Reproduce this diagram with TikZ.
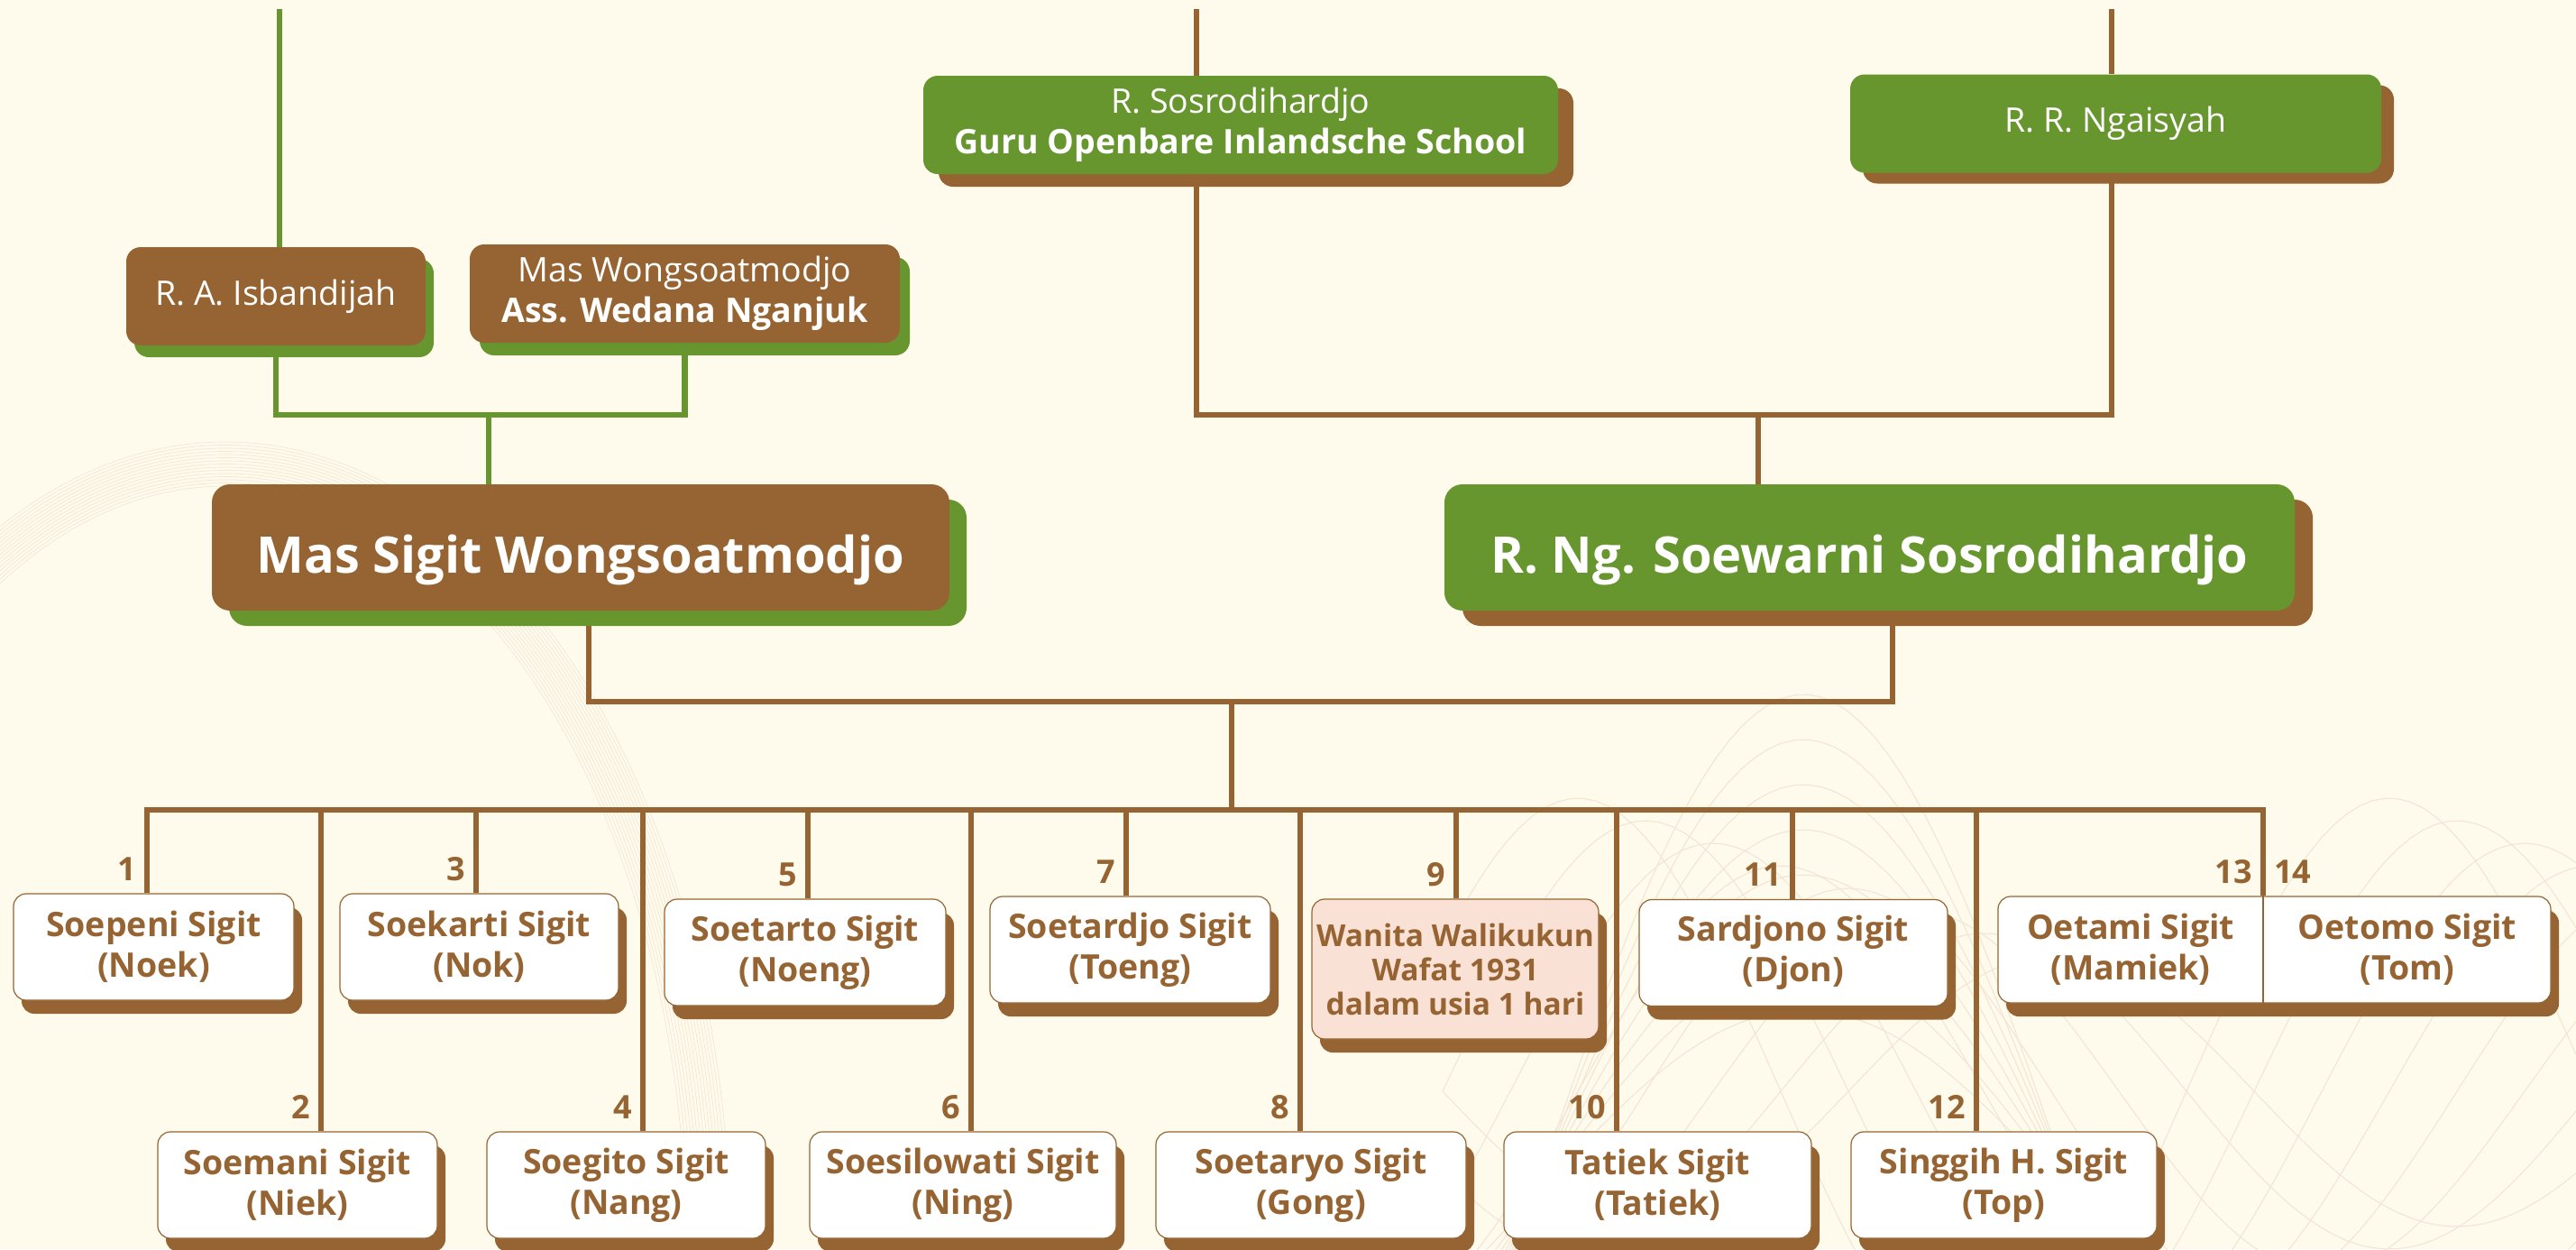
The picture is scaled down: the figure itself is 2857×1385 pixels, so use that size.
\documentclass[tikz,border=0pt]{standalone}
\usepackage{fontspec}
\setmainfont{Open Sans}
\usetikzlibrary{shadows,calc}
\definecolor{brn}{RGB}{150,100,50}
\definecolor{grn}{RGB}{103,150,47}
\definecolor{cream}{RGB}{255,251,236}
\definecolor{pink}{RGB}{250,225,214}
\definecolor{swirl}{RGB}{243,230,215}
\pgfdeclarelayer{deco}
\pgfdeclarelayer{links}
\pgfsetlayers{deco,links,main}

\begin{document}
\begin{tikzpicture}[x=1pt,y=-1pt,
  glink/.style={grn,line width=6.5pt},
  blink/.style={brn,line width=6pt},
  gshadow/.style 2 args={drop shadow={shadow xshift=#1,shadow yshift=#2,opacity=1,fill=grn}},
  bshadow/.style 2 args={drop shadow={shadow xshift=#1,shadow yshift=#2,opacity=1,fill=brn}},
  person/.style={rounded corners=16pt,text=white,align=center,inner sep=0pt,
    minimum height=109pt,font=\fontsize{37.5}{45}\selectfont},
  big/.style={minimum height=140pt,rounded corners=20pt,text height=56pt,text depth=0pt,
    font=\bfseries\fontsize{56}{60}\selectfont},
  child/.style={draw=brn,line width=1.2pt,fill=white,rounded corners=14pt,text=brn,align=center,
    inner sep=0pt,minimum height=118pt,font=\bfseries\fontsize{37.5}{45}\selectfont,
    bshadow={9pt}{-15pt}},
  twin/.style={text=brn,align=center,inner sep=0pt,font=\bfseries\fontsize{37.5}{45}\selectfont},
  num/.style={text=brn,inner sep=0pt,font=\bfseries\fontsize{36}{40}\selectfont}]

  \useasboundingbox (0,0) rectangle (2857,1385);

  \begin{pgfonlayer}{deco}
    \fill[cream] (0,0) rectangle (2857,1385);
    \begin{scope}
      \clip (0,0) rectangle (2857,1385);
      \foreach \k in {0,...,14}
        \draw[swirl,line width=0.7pt] (250+560-3.5*\k,1385)
          arc[start angle=0,end angle=-180,x radius=560-3.5*\k,y radius=895-3.5*\k];
      \foreach \k in {0,...,7}
        \draw[swirl,line width=1.2pt] plot[domain=1550:2857,samples=90]
          (\x,{1330-(560-50*\k)*cos((\x-2000)*0.3)});
      \foreach \k in {0,...,7}
        \draw[swirl,line width=1.2pt] plot[domain=1600:2857,samples=90]
          (\x,{1210+(150+25*\k)*sin((\x-1600)*0.4+30*\k)});
    \end{scope}
  \end{pgfonlayer}

  \node[person,fill=brn,gshadow={9pt}{-13pt},minimum width=332pt] (pIsb) at (306,328.5) {R. A. Isbandijah};
  \node[person,fill=brn,gshadow={11pt}{-14pt},minimum width=477pt] (pWong) at (759.5,325.5)
    {Mas Wongsoatmodjo\\\textbf{Ass. Wedana Nganjuk}};
  \node[person,fill=grn,bshadow={17pt}{-14pt},minimum width=704pt] (pSos) at (1376,138.5)
    {R. Sosrodihardjo\\\textbf{Guru Openbare Inlandsche School}};
  \node[person,fill=grn,bshadow={14pt}{-12pt},minimum width=589pt] (pNga) at (2346.5,137) {R. R. Ngaisyah};
  \node[person,big,fill=brn,gshadow={19pt}{-17pt},minimum width=818pt] (pSigit) at (644,607) {Mas Sigit Wongsoatmodjo};
  \node[person,big,fill=grn,bshadow={20pt}{-17pt},minimum width=943pt] (pSoew) at (2073.5,607) {R. Ng. Soewarni Sosrodihardjo};

  \foreach \n/\x/\y/\w/\txt in {
      1/170.5/1050/311/{Soepeni Sigit\\(Noek)},
      3/531.5/1050/309/{Soekarti Sigit\\(Nok)},
      5/893/1056/312/{Soetarto Sigit\\(Noeng)},
      7/1253.5/1053/311/{Soetardjo Sigit\\(Toeng)},
      11/1989/1056.5/342/{Sardjono Sigit\\(Djon)},
      2/330/1314/310/{Soemani Sigit\\(Niek)},
      4/694.5/1314/309/{Soegito Sigit\\(Nang)},
      6/1068/1314/340/{Soesilowati Sigit\\(Ning)},
      8/1454/1314/344/{Soetaryo Sigit\\(Gong)},
      10/1838.5/1314/341/{Tatiek Sigit\\(Tatiek)},
      12/2222.5/1314/339/{Singgih H. Sigit\\(Top)}}
    \node[child,minimum width=\w pt] (c\n) at (\x,\y) {\txt};
  \node[child,fill=pink,minimum width=318pt,minimum height=155pt,
    font=\bfseries\fontsize{33.5}{38}\selectfont] (c9) at (1614,1074.5)
    {Wanita Walikukun\\Wafat 1931\\dalam usia 1 hari};
  \node[child,minimum width=613pt] (c13) at (2522.5,1053) {};
  \node[twin] (tw13) at (2363,1053) {Oetami Sigit\\(Mamiek)};
  \node[twin] (tw14) at (2670,1053) {Oetomo Sigit\\(Tom)};

  \foreach \n/\x in {1/163,2/356,3/528,4/713,5/896,6/1077,7/1249,8/1442,9/1615,10/1793,11/1988,12/2192,13/2510}
    \coordinate (t\n) at (\x,898);
  \draw[brn,line width=1.2pt] (t13 |- c13.north) -- (t13 |- c13.south);

  \coordinate (topIsb) at (310,10);
  \coordinate (topSos) at (1327,10);
  \coordinate (topNga) at (2342,10);
  \coordinate (jTop) at (542,460);
  \coordinate (jPar) at (1950,460);
  \coordinate (aSig) at (653,778);
  \coordinate (aSoew) at (2099,778);
  \coordinate (jKids) at (1366,778);

  \begin{pgfonlayer}{links}
    \draw[glink] (topIsb) -- (topIsb |- pIsb.north);
    \draw[glink] (pIsb) |- (jTop) -| (pWong);
    \draw[glink] (jTop) -- (jTop |- pSigit.north);
    \draw[blink] (topSos) -- (topSos |- pSos.north);
    \draw[blink] (topNga) -- (topNga |- pNga.north);
    \draw[blink] (topSos |- pSos.south) |- (jPar) -| (topNga |- pNga.south);
    \draw[blink] (jPar) -- (jPar |- pSoew.north);
    \draw[blink] (aSig |- pSigit.south) |- (jKids) -| (aSoew |- pSoew.south);
    \draw[blink] (jKids) -- (jKids |- t1);
    \draw[blink] (t1 |- c1.north) -- (t1) -- (t13) -- (t13 |- c13.north);
    \foreach \n in {2,...,12}
      \draw[blink] (t\n) -- (t\n |- c\n.north);
  \end{pgfonlayer}

  \foreach \n in {1,...,13}
    \node[num,anchor=base east] (n\n) at ($(t\n |- c\n.north)+(-12,-14)$) {\n};
  \node[num,anchor=base west] (n14) at ($(t13 |- c13.north)+(12,-14)$) {14};
\end{tikzpicture}
\end{document}
